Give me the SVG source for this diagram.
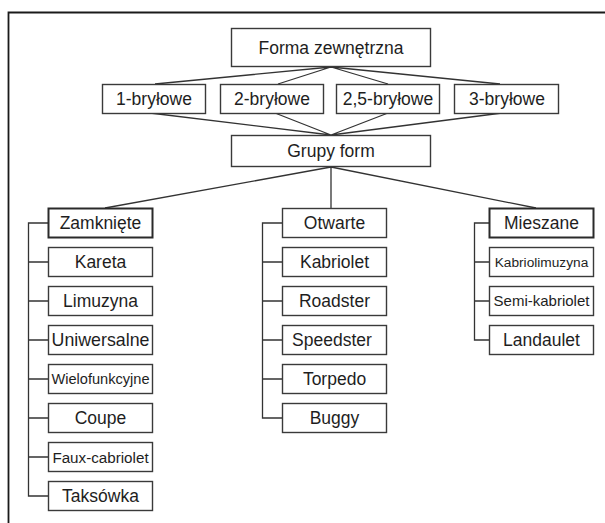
<svg xmlns="http://www.w3.org/2000/svg" width="605" height="523" viewBox="0 0 605 523">
<style>
.b{fill:#fff;stroke:#3a3a3a;stroke-width:1.4}
.bb{fill:#fff;stroke:#2a2a2a;stroke-width:2}
.t{font-family:"Liberation Sans",Arial,sans-serif;font-size:17.5px;fill:#1e1e1e;text-anchor:middle}
.c{fill:none;stroke:#333;stroke-width:1.3}
</style>
<rect width="605" height="523" fill="#fff"/>
<g id="frame" fill="none" stroke="#1a1a1a" stroke-width="1.8">
<path d="M8.5 523V12.5H605"/>
</g>
<g id="connectors" class="c">
<path d="M331 67L155 84M331 67L278 84M331 67L388 84M331 67L500 84"/>
<path d="M150 113L331 135M275 113L331 135M388 113L331 135M502 113L331 135"/>
<path d="M331 167L105 208M331 167V208M331 167L536 208"/>
<path d="M48 223H28.5V496H48M28.5 262H48M28.5 301H48M28.5 340H48M28.5 379H48M28.5 418H48M28.5 457H48"/>
<path d="M282 223H262.5V418H282M262.5 262H282M262.5 301H282M262.5 340H282M262.5 379H282"/>
<path d="M489 223H474.5V340H489M474.5 262H489M474.5 301H489"/>
</g>
<g id="n-forma"><rect class="b" x="231.5" y="28.5" width="199" height="38"/><text class="t" x="331" y="54">Forma zewnętrzna</text></g>
<g id="n-1"><rect class="b" x="102.5" y="84.5" width="103" height="29"/><text class="t" x="154" y="105">1-bryłowe</text></g>
<g id="n-2"><rect class="b" x="220.5" y="84.5" width="103" height="29"/><text class="t" x="272" y="105">2-bryłowe</text></g>
<g id="n-25"><rect class="b" x="336.5" y="84.5" width="103" height="29"/><text class="t" x="388" y="105">2,5-bryłowe</text></g>
<g id="n-3"><rect class="b" x="454.5" y="84.5" width="104" height="29"/><text class="t" x="507" y="105">3-bryłowe</text></g>
<g id="n-grupy"><rect class="b" x="231.5" y="135.5" width="199" height="31"/><text class="t" x="331" y="157">Grupy form</text></g>

<g id="n-zamkniete"><rect class="bb" x="48.5" y="208.5" width="104" height="29"/><text class="t" x="100.5" y="229">Zamknięte</text></g>
<g id="n-kareta"><rect class="b" x="48.5" y="247.5" width="104" height="29"/><text class="t" x="100.5" y="268">Kareta</text></g>
<g id="n-limuzyna"><rect class="b" x="48.5" y="286.5" width="104" height="29"/><text class="t" x="100.5" y="307">Limuzyna</text></g>
<g id="n-uniwersalne"><rect class="b" x="48.5" y="325.5" width="104" height="29"/><text class="t" x="100.5" y="346" style="font-size:17.8px">Uniwersalne</text></g>
<g id="n-wielofunkcyjne"><rect class="b" x="48.5" y="364.5" width="104" height="29"/><text class="t" x="100.5" y="384" style="font-size:14.6px">Wielofunkcyjne</text></g>
<g id="n-coupe"><rect class="b" x="48.5" y="403.5" width="104" height="29"/><text class="t" x="100.5" y="424">Coupe</text></g>
<g id="n-faux"><rect class="b" x="48.5" y="442.5" width="104" height="29"/><text class="t" x="100.5" y="462.5" style="font-size:15.2px">Faux-cabriolet</text></g>
<g id="n-taksowka"><rect class="b" x="48.5" y="481.5" width="104" height="29"/><text class="t" x="100.5" y="502">Taksówka</text></g>

<g id="n-otwarte"><rect class="b" x="282.5" y="208.5" width="104" height="29"/><text class="t" x="334.5" y="229">Otwarte</text></g>
<g id="n-kabriolet"><rect class="b" x="282.5" y="247.5" width="104" height="29"/><text class="t" x="334.5" y="268">Kabriolet</text></g>
<g id="n-roadster"><rect class="b" x="282.5" y="286.5" width="104" height="29"/><text class="t" x="334.5" y="307">Roadster</text></g>
<g id="n-speedster"><rect class="b" x="282.5" y="325.5" width="104" height="29"/><text class="t" x="332" y="346">Speedster</text></g>
<g id="n-torpedo"><rect class="b" x="282.5" y="364.5" width="104" height="29"/><text class="t" x="334.5" y="385">Torpedo</text></g>
<g id="n-buggy"><rect class="b" x="282.5" y="403.5" width="104" height="29"/><text class="t" x="334.5" y="424">Buggy</text></g>

<g id="n-mieszane"><rect class="bb" x="489.5" y="208.5" width="104" height="29"/><text class="t" x="541.5" y="229">Mieszane</text></g>
<g id="n-kabriolimuzyna"><rect class="b" x="489.5" y="247.5" width="104" height="29"/><text class="t" x="541.5" y="267" style="font-size:13.7px">Kabriolimuzyna</text></g>
<g id="n-semi"><rect class="b" x="489.5" y="286.5" width="104" height="29"/><text class="t" x="541.5" y="306" style="font-size:15px">Semi-kabriolet</text></g>
<g id="n-landaulet"><rect class="b" x="489.5" y="325.5" width="104" height="29"/><text class="t" x="541.5" y="346">Landaulet</text></g>
</svg>
